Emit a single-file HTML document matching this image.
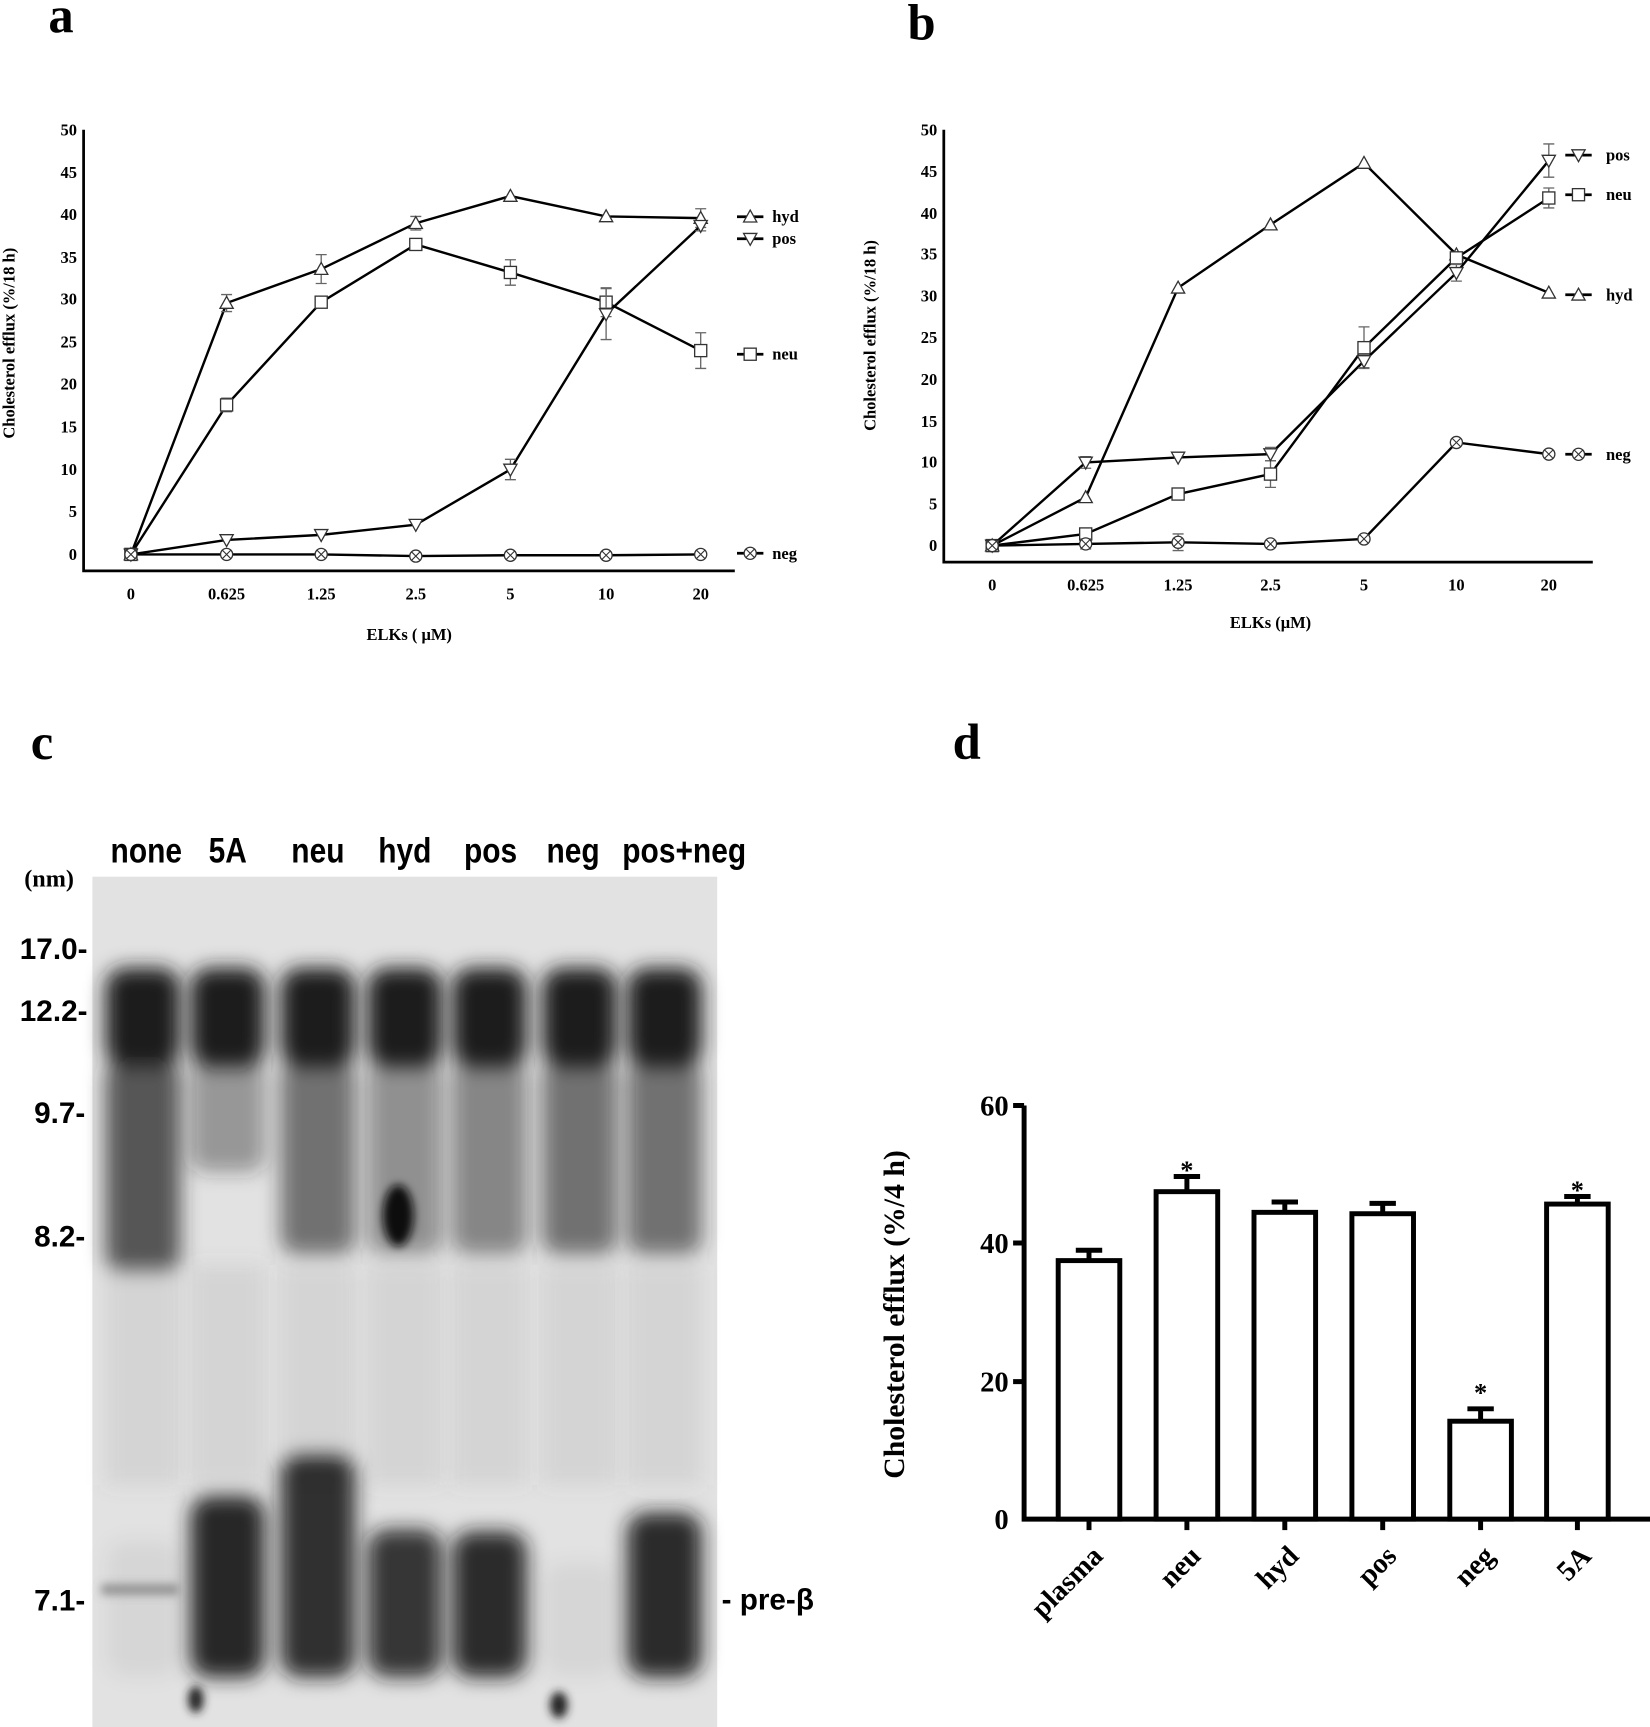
<!DOCTYPE html>
<html><head><meta charset="utf-8"><style>
html,body{margin:0;padding:0;background:#fff}
svg{display:block}
.s{font-family:"Liberation Serif",serif;font-weight:bold}
.a{font-family:"Liberation Sans",sans-serif;font-weight:bold}
</style></head><body>
<svg id="c" width="1650" height="1727" viewBox="0 0 1500 1570" xmlns="http://www.w3.org/2000/svg">
<defs>
<filter id="b8" x="-50%" y="-50%" width="200%" height="200%"><feGaussianBlur stdDeviation="9"/></filter>
<filter id="b4" x="-50%" y="-50%" width="200%" height="200%"><feGaussianBlur stdDeviation="4"/></filter>
</defs>
<rect width="1500" height="1570" fill="#fff"/>
<text x="44" y="29" class="s" font-size="46">a</text>
<text x="825" y="36" class="s" font-size="46">b</text>
<text x="28" y="690" class="s" font-size="46">c</text>
<text x="866" y="690" class="s" font-size="46">d</text>

<g stroke="#000" stroke-width="2.5" fill="none">
<path d="M76,118 V519 H668"/>
<path d="M858,118 V511 H1448"/>
</g>
<g class="s" font-size="15" text-anchor="end">
<text x="70" y="123">50</text><text x="70" y="162">45</text><text x="70" y="200">40</text><text x="70" y="239">35</text><text x="70" y="277">30</text><text x="70" y="316">25</text><text x="70" y="354">20</text><text x="70" y="393">15</text><text x="70" y="432">10</text><text x="70" y="470">5</text><text x="70" y="509">0</text>
</g>
<g class="s" font-size="15" text-anchor="middle">
<text x="119" y="545">0</text><text x="206" y="545">0.625</text><text x="292" y="545">1.25</text><text x="378" y="545">2.5</text><text x="464" y="545">5</text><text x="551" y="545">10</text><text x="637" y="545">20</text>
<text x="372" y="582">ELKs ( μM)</text>
</g>
<text class="s" font-size="15" text-anchor="middle" transform="translate(13,312) rotate(-90)">Cholesterol efflux (%/18 h)</text>
<g class="s" font-size="15">
<text x="702" y="202">hyd</text><text x="702" y="222">pos</text><text x="702" y="327">neu</text><text x="702" y="508">neg</text>
</g>

<g class="s" font-size="15" text-anchor="end">
<text x="852" y="123">50</text><text x="852" y="161">45</text><text x="852" y="199">40</text><text x="852" y="236">35</text><text x="852" y="274">30</text><text x="852" y="312">25</text><text x="852" y="350">20</text><text x="852" y="388">15</text><text x="852" y="425">10</text><text x="852" y="463">5</text><text x="852" y="501">0</text>
</g>
<g class="s" font-size="15" text-anchor="middle">
<text x="902" y="537">0</text><text x="987" y="537">0.625</text><text x="1071" y="537">1.25</text><text x="1155" y="537">2.5</text><text x="1240" y="537">5</text><text x="1324" y="537">10</text><text x="1408" y="537">20</text>
<text x="1155" y="571">ELKs (μM)</text>
</g>
<text class="s" font-size="15" text-anchor="middle" transform="translate(796,305) rotate(-90)">Cholesterol efflux (%/18 h)</text>
<g class="s" font-size="15">
<text x="1460" y="146">pos</text><text x="1460" y="182">neu</text><text x="1460" y="273">hyd</text><text x="1460" y="418">neg</text>
</g>

<rect x="84" y="797" width="568" height="773" fill="#e2e2e2"/>
<g id="blot"></g>
<g class="a" font-size="32" text-anchor="middle">
<text x="133" y="784" transform="translate(133,0) scale(0.85,1) translate(-133,0)">none</text>
<text x="207" y="784" transform="translate(207,0) scale(0.85,1) translate(-207,0)">5A</text>
<text x="289" y="784" transform="translate(289,0) scale(0.85,1) translate(-289,0)">neu</text>
<text x="368" y="784" transform="translate(368,0) scale(0.85,1) translate(-368,0)">hyd</text>
<text x="446" y="784" transform="translate(446,0) scale(0.85,1) translate(-446,0)">pos</text>
<text x="521" y="784" transform="translate(521,0) scale(0.85,1) translate(-521,0)">neg</text>
<text x="622" y="784" transform="translate(622,0) scale(0.85,1) translate(-622,0)">pos+neg</text>
</g>
<text x="22" y="806" class="s" font-size="22">(nm)</text>
<g class="a" font-size="27">
<text x="18" y="872">17.0-</text><text x="18" y="928">12.2-</text><text x="31" y="1021">9.7-</text><text x="31" y="1133">8.2-</text><text x="31" y="1464">7.1-</text>
<text x="656" y="1463">- pre-β</text>
</g>

<g stroke="#000" stroke-width="4.5" fill="none">
<path d="M931,1005 V1381 H1500"/>
<path d="M921,1005 H931 M921,1130 H931 M921,1256 H931"/>
</g>
<g class="s" font-size="26" text-anchor="end">
<text x="917" y="1014">60</text><text x="917" y="1139">40</text><text x="917" y="1265">20</text><text x="917" y="1390">0</text>
</g>
<text class="s" font-size="27" text-anchor="middle" transform="translate(822,1195) rotate(-90)">Cholesterol efflux (%/4 h)</text>
<g id="bars"></g>
<g class="s" font-size="26" text-anchor="end">
<text transform="translate(1004,1416) rotate(-45)">plasma</text>
<text transform="translate(1093,1416) rotate(-45)">neu</text>
<text transform="translate(1182,1416) rotate(-45)">hyd</text>
<text transform="translate(1271,1416) rotate(-45)">pos</text>
<text transform="translate(1360,1416) rotate(-45)">neg</text>
<text transform="translate(1448,1416) rotate(-45)">5A</text>
</g>
<g class="s" font-size="24" text-anchor="middle">
<text x="1079" y="1072">*</text><text x="1346" y="1274">*</text><text x="1434" y="1090">*</text>
</g>
<g id="plots"></g>
</svg>
<script>
var NS="http://www.w3.org/2000/svg";
function el(p,t,a){var e=document.createElementNS(NS,t);for(var k in a)e.setAttribute(k,a[k]);p.appendChild(e);return e;}
var P=document.getElementById("plots");
function marker(g,type,x,y){
 var r=6;
 if(type=="up")el(g,"path",{d:"M"+x+","+(y-r)+" L"+(x+r)+","+(y+r*0.8)+" L"+(x-r)+","+(y+r*0.8)+"Z",fill:"#fff",stroke:"#333","stroke-width":1.2});
 if(type=="dn")el(g,"path",{d:"M"+x+","+(y+r)+" L"+(x+r)+","+(y-r*0.8)+" L"+(x-r)+","+(y-r*0.8)+"Z",fill:"#fff",stroke:"#333","stroke-width":1.2});
 if(type=="sq")el(g,"rect",{x:x-5.5,y:y-5.5,width:11,height:11,fill:"#fff",stroke:"#333","stroke-width":1.2});
 if(type=="x"){el(g,"circle",{cx:x,cy:y,r:5.5,fill:"#fff",stroke:"#333","stroke-width":1.2});el(g,"path",{d:"M"+(x-4)+","+(y-4)+"L"+(x+4)+","+(y+4)+"M"+(x+4)+","+(y-4)+"L"+(x-4)+","+(y+4),stroke:"#333","stroke-width":1});}
}
function plot(xs,y0,k,series,legx){
 series.forEach(function(s){
  var pts=s.d.map(function(v,i){return [xs[i],y0-v*k];});
  el(P,"polyline",{points:pts.map(function(p){return p.join(",")}).join(" "),fill:"none",stroke:"#000","stroke-width":2.2});
  (s.e||[]).forEach(function(e,i){if(e>0){var x=pts[i][0],y=pts[i][1],h=e*k;el(P,"path",{d:"M"+x+","+(y-h)+"V"+(y+h)+"M"+(x-5)+","+(y-h)+"H"+(x+5)+"M"+(x-5)+","+(y+h)+"H"+(x+5),stroke:"#666","stroke-width":1.2,fill:"none"});}});
  pts.forEach(function(p){marker(P,s.m,p[0],p[1]);});
  el(P,"path",{d:"M"+(legx-12)+","+s.ly+"H"+(legx+12),stroke:"#000","stroke-width":2.5});
  marker(P,s.m,legx,s.ly);
 });
}
plot([119,206,292,378,464,551,637],504,7.72,[
 {m:"up",d:[0,29.6,33.6,39,42.2,39.8,39.6],e:[0,1,1.7,0.8,0,0,1.1],ly:197},
 {m:"sq",d:[0,17.6,29.7,36.5,33.2,29.7,24],e:[0,0.8,0,0,1.5,1.7,2.1],ly:322},
 {m:"dn",d:[0,1.7,2.3,3.5,10,28.3,38.7],e:[0,0,0,0,1.2,3,0.6],ly:217},
 {m:"x",d:[0,0,0,-0.2,-0.1,-0.1,0],ly:503}],682);
plot([902,987,1071,1155,1240,1324,1408],496,7.56,[
 {m:"up",d:[0,5.8,31,38.6,46,35,30.4],ly:268},
 {m:"sq",d:[0,1.4,6.2,8.6,23.8,34.6,41.8],e:[0,0,0,1.6,2.5,0,1.2],ly:177},
 {m:"dn",d:[0,10,10.6,11,22.2,32.8,46.3],e:[0,0.7,0,0.8,0.8,1,2],ly:141},
 {m:"x",d:[0,0.2,0.4,0.2,0.8,12.4,11],e:[0,0.6,1,0,0,0,0],ly:413}],1435);
var B=document.getElementById("bars");
[[990,37.5,39],[1079,47.5,49.7],[1168,44.5,46],[1257,44.3,45.8],[1346,14.2,16],[1434,45.7,46.8]].forEach(function(b){
 var k=376/60,y=1381-b[1]*k,ye=1381-b[2]*k;
 el(B,"path",{d:"M"+b[0]+","+y+"V"+ye+"M"+(b[0]-12)+","+ye+"H"+(b[0]+12),stroke:"#000","stroke-width":4.5,fill:"none"});
 el(B,"rect",{x:b[0]-28,y:y,width:56,height:1381-y,fill:"#fff",stroke:"#000","stroke-width":4.5});
 el(B,"path",{d:"M"+b[0]+",1381V1391",stroke:"#000","stroke-width":4.5});
});
var G=document.getElementById("blot");
var lanes=[130,207,289,368,445,527,604];
var top=[0.92,0.7,0.75,0.7,0.9,0.92,0.92];
var mid=[0.75,0.4,0.6,0.45,0.5,0.6,0.6];
var low=[0.05,0.95,0.88,0.85,0.9,0.05,0.9];
var lowTop=[1400,1360,1322,1390,1392,1420,1375];
lanes.forEach(function(x,i){
 var g=el(G,"g",{filter:"url(#b8)"});
 el(g,"rect",{x:x-34,y:880,width:68,height:90,fill:"#1a1a1a","fill-opacity":top[i],rx:18});
 el(g,"rect",{x:x-34,y:965,width:68,height:i==0?190:(i==1?100:175),fill:"#2a2a2a","fill-opacity":mid[i],rx:14});
 el(g,"rect",{x:x-34,y:1150,width:68,height:200,fill:"#777","fill-opacity":0.12});
 el(g,"rect",{x:x-34,y:lowTop[i],width:68,height:1525-lowTop[i],fill:"#1a1a1a","fill-opacity":low[i],rx:18});
});
var g2=el(G,"g",{filter:"url(#b4)"});
el(g2,"ellipse",{cx:362,cy:1105,rx:14,ry:28,fill:"#111"});
el(g2,"ellipse",{cx:178,cy:1545,rx:7,ry:12,fill:"#222"});
el(g2,"ellipse",{cx:508,cy:1550,rx:8,ry:12,fill:"#222"});
el(g2,"rect",{x:92,y:1440,width:70,height:10,fill:"#666","fill-opacity":0.6});
</script>
</body></html>
